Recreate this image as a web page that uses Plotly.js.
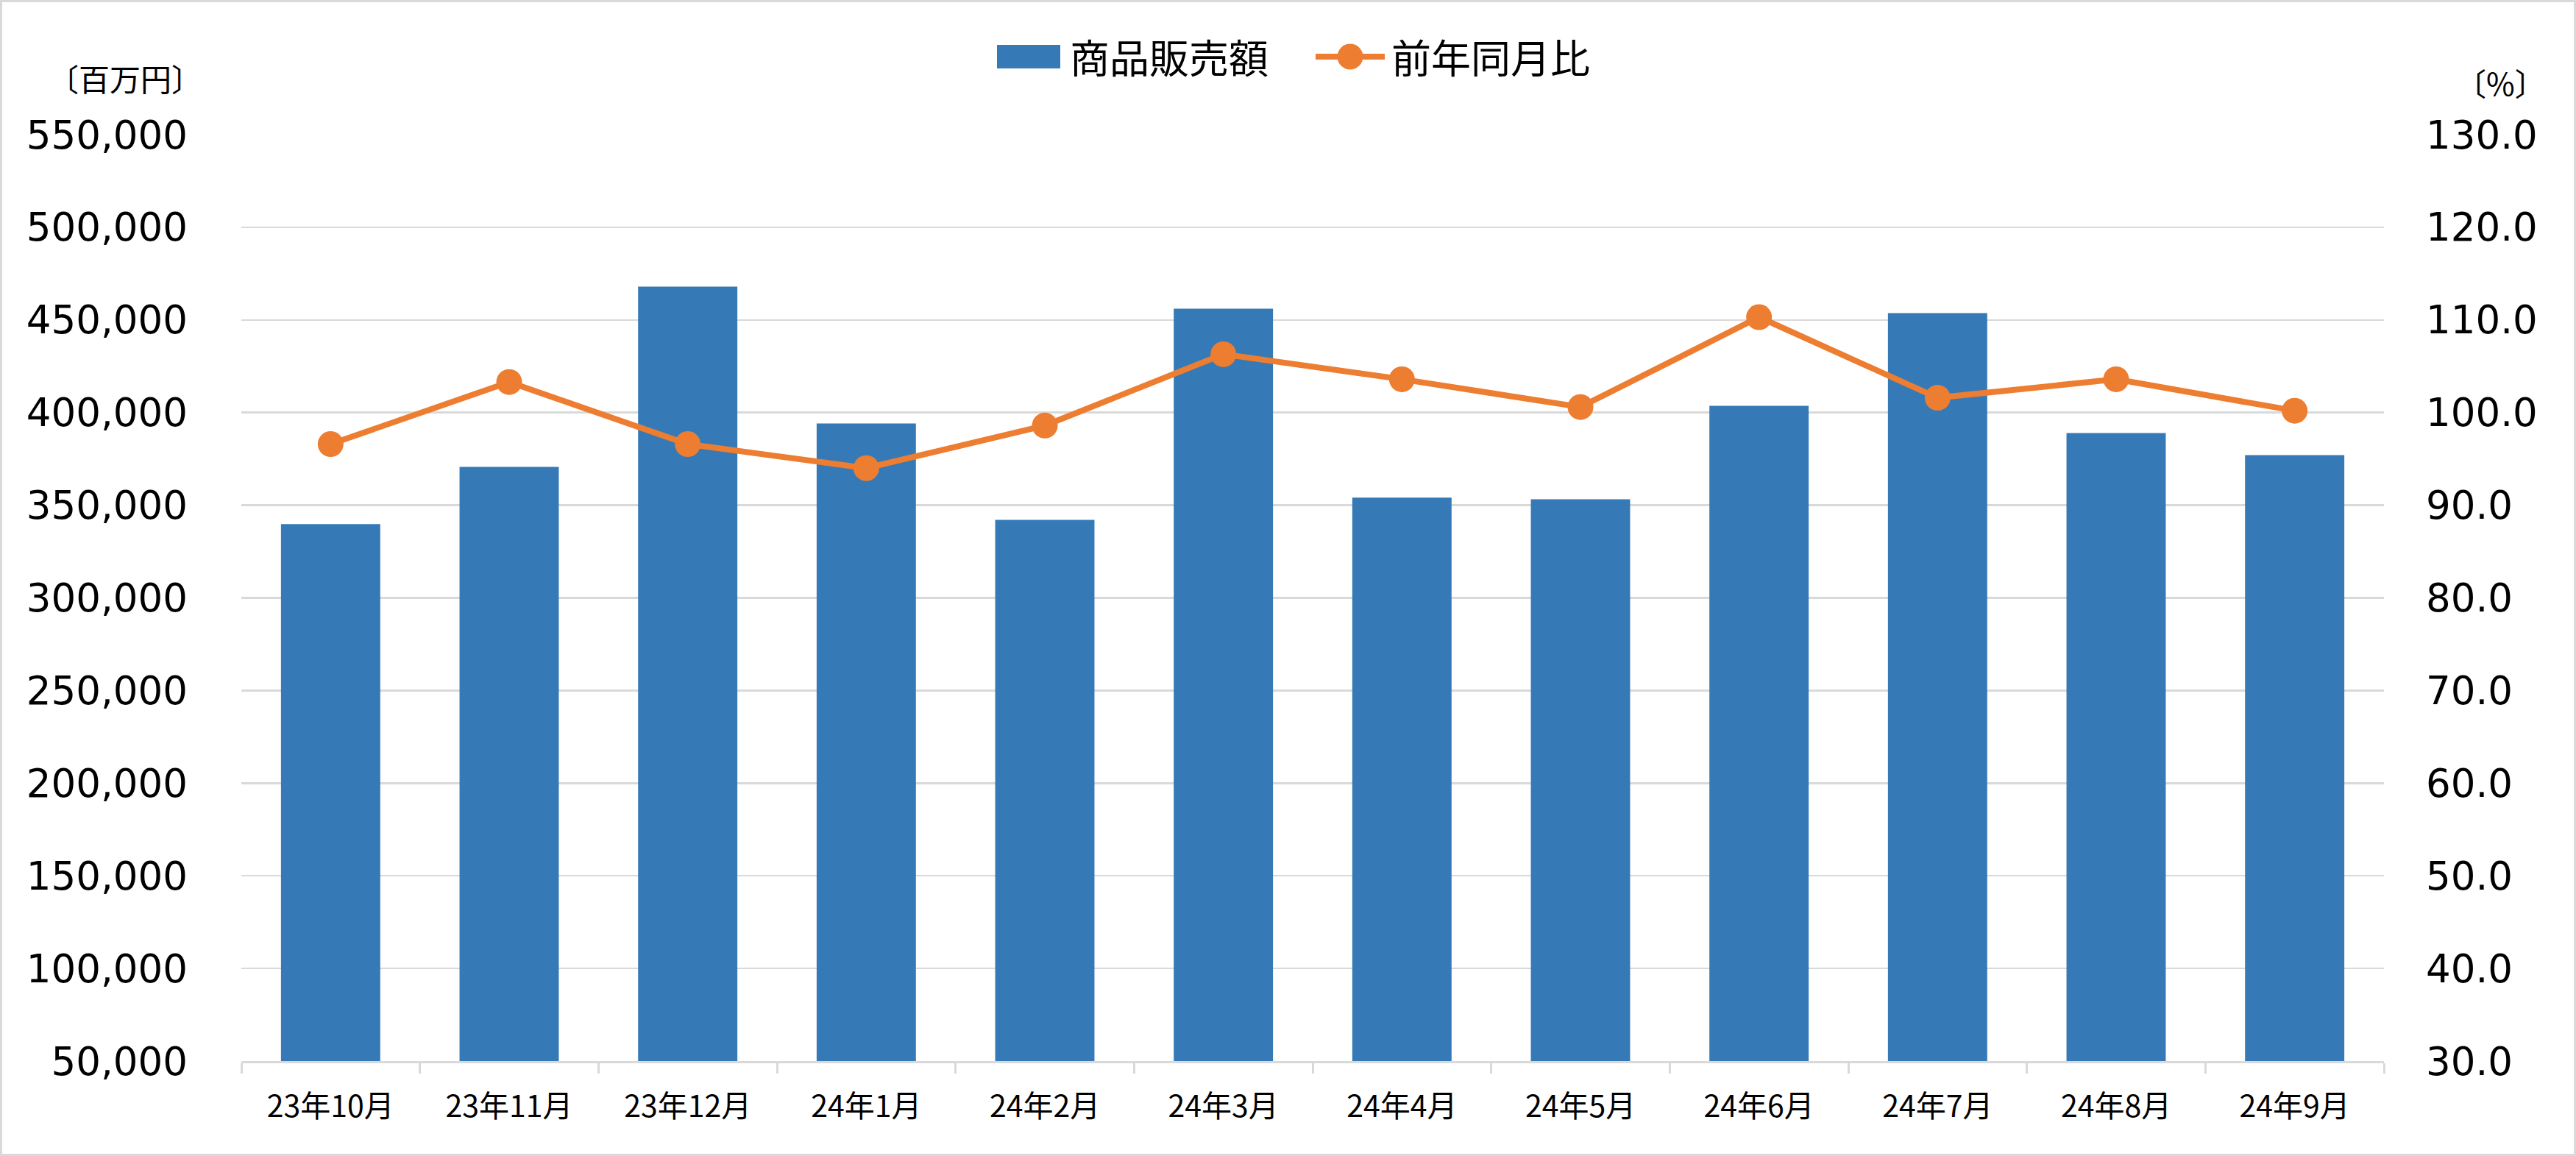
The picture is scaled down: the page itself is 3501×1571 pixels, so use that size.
<!DOCTYPE html>
<html>
<head>
<meta charset="utf-8">
<script src="https://cdn.plot.ly/plotly-3.0.1.min.js"></script>
<style>
html,body{margin:0;padding:0;background:#fff;}
#chart{width:3501px;height:1571px;}
</style>
</head>
<body>
<div id="chart"></div>
<script>
// ---- data ----
const categories = ["23年10月","23年11月","23年12月","24年1月","24年2月","24年3月","24年4月","24年5月","24年6月","24年7月","24年8月","24年9月"];
const salesValues = [339800, 370700, 468000, 394100, 342100, 456100, 354100, 353200, 403700, 453700, 389000, 377000];
const yoyValues = [96.6, 103.3, 96.6, 94.0, 98.6, 106.3, 103.6, 100.6, 110.3, 101.6, 103.6, 100.2];
const seriesNames = ["商品販売額", "前年同月比"];
const leftUnit = "〔百万円〕";
const rightUnit = "〔%〕";

// ---- layout constants ----
const W = 3501, H = 1571;
const M = {l: 328, r: 261, t: 183, b: 129};
const PW = W - M.l - M.r, PH = H - M.t - M.b;
const px2x = p => (p - M.l) / PW;
const py2y = p => (H - M.b - p) / PH;

const CJK = '"Noto Sans CJK JP", "Noto Sans", sans-serif';
const NUM = '"DejaVu Sans", "Noto Sans CJK JP", sans-serif';
const GRID = '#d9d9d9';
const BLUE = '#357AB6';
const ORANGE = '#ED7D31';

const traces = [
  {
    type: 'bar',
    name: seriesNames[0],
    x: categories,
    y: salesValues,
    marker: {color: BLUE, line: {width: 0}},
    yaxis: 'y'
  },
  {
    type: 'scatter',
    mode: 'lines+markers',
    name: seriesNames[1],
    x: categories,
    y: yoyValues,
    yaxis: 'y2',
    line: {color: ORANGE, width: 8},
    marker: {color: ORANGE, size: 35},
    cliponaxis: false
  }
];

// legend built from series names (custom swatches to match the original's large legend keys)
const legY = 77;
const legendShapes = [
  {type: 'rect', xref: 'paper', yref: 'paper',
   x0: px2x(1355), x1: px2x(1441), y0: py2y(legY + 16), y1: py2y(legY - 16),
   fillcolor: BLUE, line: {width: 0}},
  {type: 'line', xref: 'paper', yref: 'paper',
   x0: px2x(1788), x1: px2x(1882), y0: py2y(legY), y1: py2y(legY),
   line: {color: ORANGE, width: 8}},
  {type: 'circle', xref: 'paper', yref: 'paper',
   x0: px2x(1835 - 17.5), x1: px2x(1835 + 17.5), y0: py2y(legY + 17.5), y1: py2y(legY - 17.5),
   fillcolor: ORANGE, line: {width: 0}}
];
const legendTexts = [
  {text: seriesNames[0], xref: 'paper', yref: 'paper', x: px2x(1452), y: py2y(legY),
   xanchor: 'left', yanchor: 'middle', showarrow: false,
   font: {family: CJK, size: 54, color: '#000'}},
  {text: seriesNames[1], xref: 'paper', yref: 'paper', x: px2x(1889), y: py2y(legY),
   xanchor: 'left', yanchor: 'middle', showarrow: false,
   font: {family: CJK, size: 54, color: '#000'}}
];

const layout = {
  width: W, height: H,
  margin: M,
  paper_bgcolor: '#ffffff',
  plot_bgcolor: '#ffffff',
  bargap: 0.444,
  showlegend: false,
  xaxis: {
    type: 'category',
    range: [-0.5, categories.length - 0.5],
    tickmode: 'array',
    tickvals: categories,
    ticktext: categories,
    tickson: 'boundaries',
    ticks: 'outside',
    ticklen: 14,
    tickwidth: 3,
    tickcolor: GRID,
    showline: true,
    linecolor: GRID,
    linewidth: 3,
    showgrid: false,
    tickfont: {family: CJK, size: 41, color: '#000'},
    ticklabelstandoff: 24,
    fixedrange: true
  },
  yaxis: {
    range: [50000, 550000],
    tickmode: 'linear',
    tick0: 50000,
    dtick: 50000,
    tickformat: ',d',
    showgrid: true,
    gridcolor: GRID,
    gridwidth: 2.5,
    zeroline: false,
    showline: false,
    ticks: '',
    tickfont: {family: NUM, size: 53, color: '#000'},
    ticklabelstandoff: 72,
    fixedrange: true
  },
  yaxis2: {
    overlaying: 'y',
    side: 'right',
    range: [30, 130],
    tickmode: 'linear',
    tick0: 30,
    dtick: 10,
    tickformat: '.1f',
    showgrid: false,
    zeroline: false,
    showline: false,
    ticks: '',
    tickfont: {family: NUM, size: 53, color: '#000'},
    ticklabelstandoff: 56,
    fixedrange: true
  },
  annotations: [
    {
      text: leftUnit, xref: 'paper', yref: 'paper',
      x: px2x(170), y: py2y(106), xanchor: 'center', yanchor: 'middle',
      showarrow: false, font: {family: CJK, size: 42, color: '#000'}
    },
    {
      text: rightUnit, xref: 'paper', yref: 'paper',
      x: px2x(3399), y: py2y(111), xanchor: 'center', yanchor: 'middle',
      showarrow: false, font: {family: CJK, size: 42, color: '#000'}
    }
  ].concat(legendTexts),
  shapes: [
    {
      type: 'rect', xref: 'paper', yref: 'paper',
      x0: px2x(1.5), x1: px2x(W - 1.5), y0: py2y(H - 1.5), y1: py2y(1.5),
      line: {color: GRID, width: 3}, fillcolor: 'rgba(0,0,0,0)', layer: 'below'
    }
  ].concat(legendShapes)
};

Plotly.newPlot('chart', traces, layout, {staticPlot: true, displayModeBar: false});
</script>
</body>
</html>
